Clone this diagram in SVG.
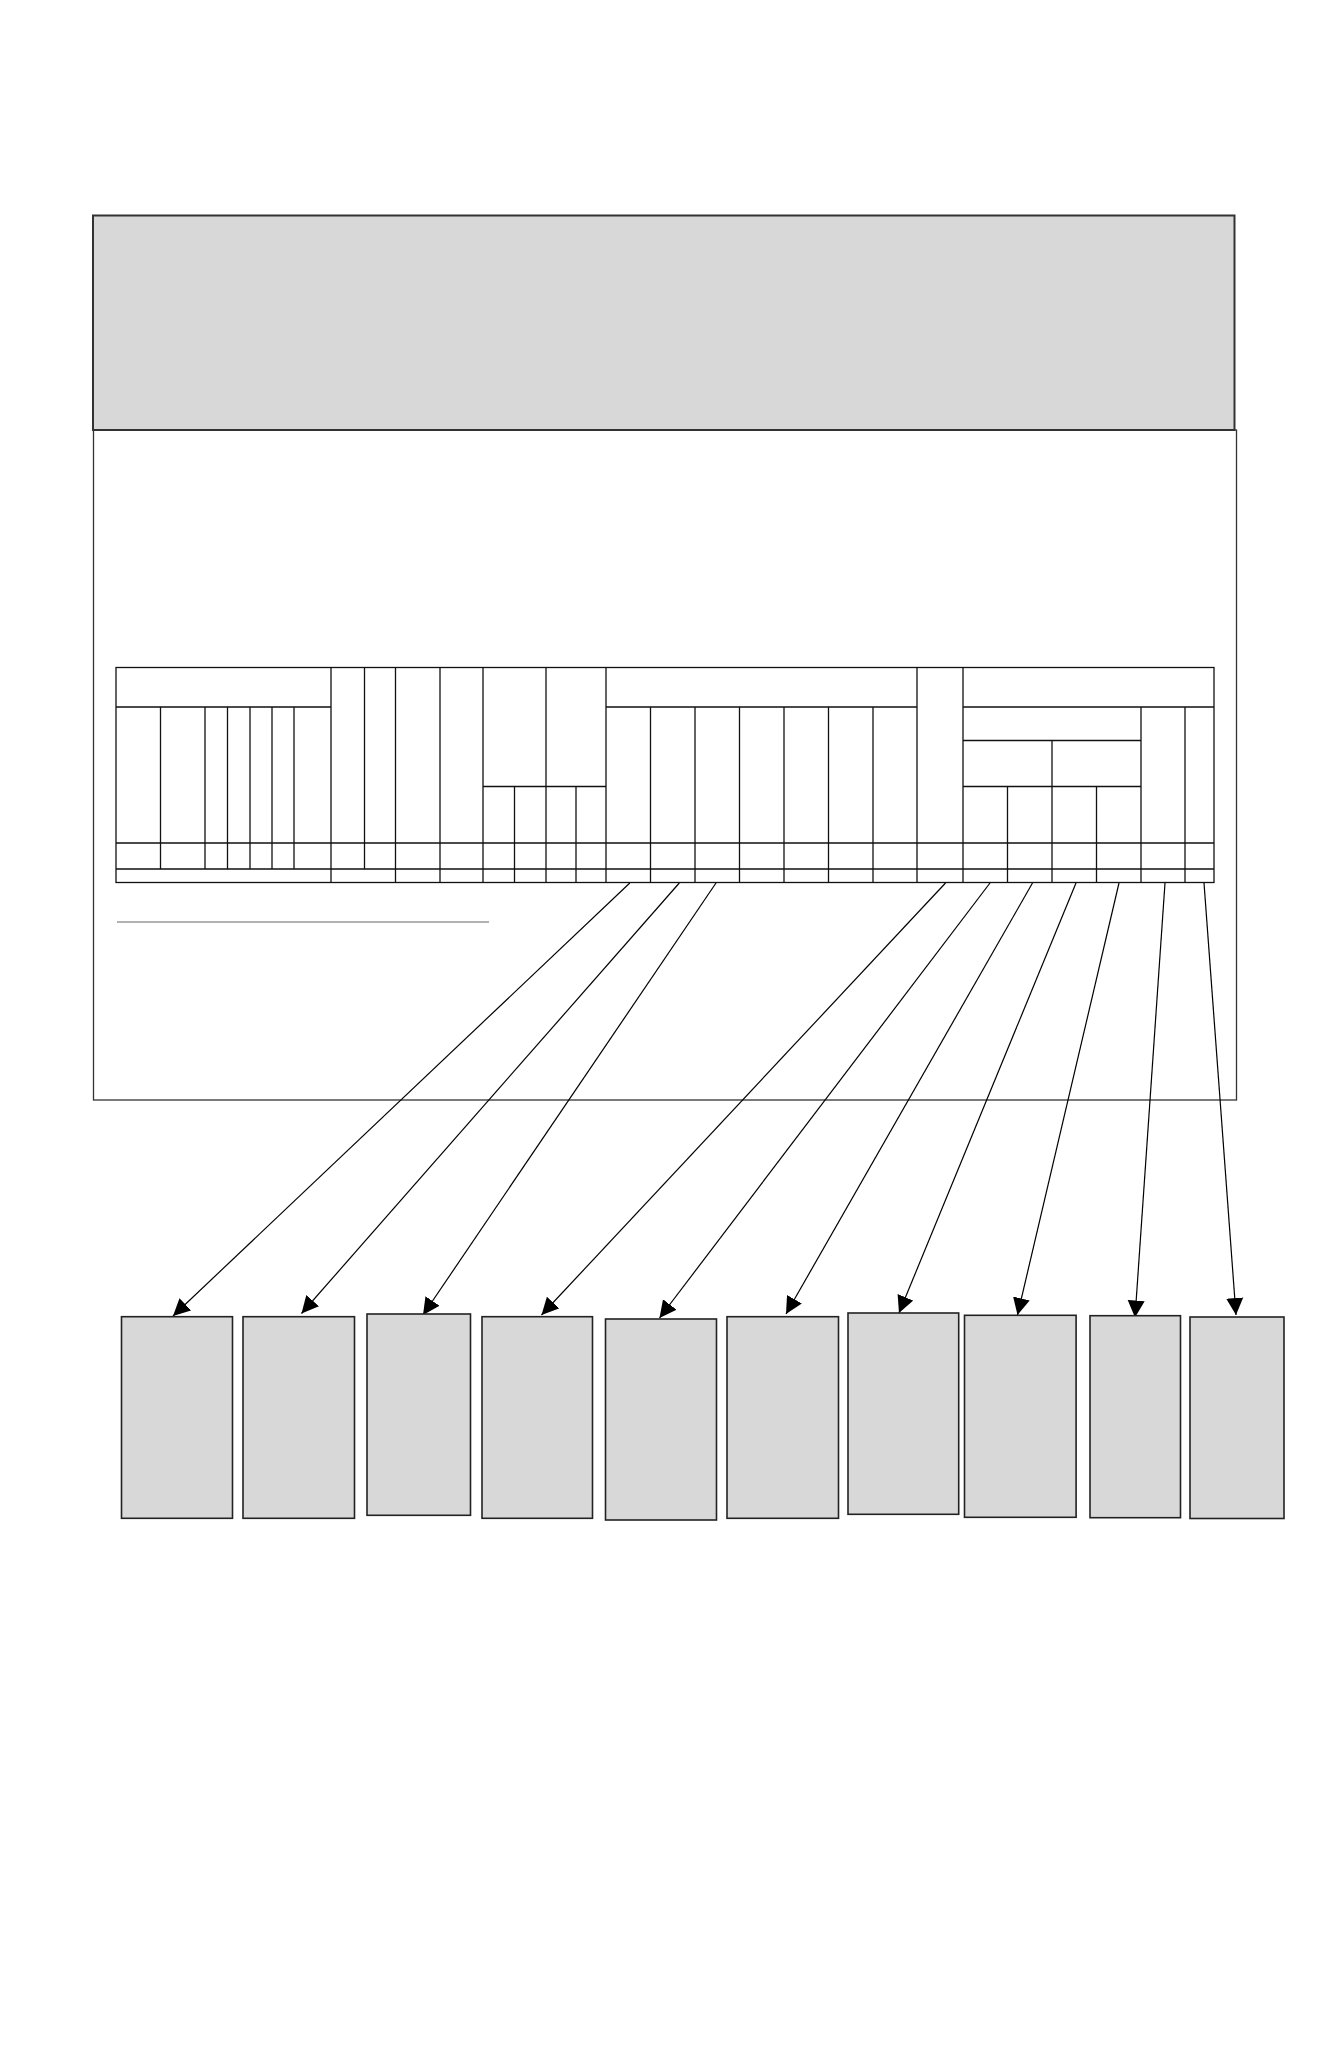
<svg xmlns="http://www.w3.org/2000/svg" width="1338" height="2046" viewBox="0 0 1338 2046">
<style>
.box{fill:#d8d8d8;stroke:#222;stroke-width:1.6}
.tl{stroke:#111;stroke-width:1.3;fill:none}
.conn{stroke:#000;stroke-width:1.2;fill:none}
</style>
<defs>
<marker id="ah" markerUnits="userSpaceOnUse" markerWidth="18" markerHeight="18" refX="17" refY="9" orient="auto" viewBox="0 0 18 18">
<path d="M0,0.5 L17,9 L0,17.5 z" fill="#000"/>
</marker>
</defs>
<rect width="1338" height="2046" fill="#fff"/>
<g id="header">
<rect x="93" y="215.5" width="1141.5" height="214.5" fill="#d8d8d8" stroke="#333" stroke-width="2"/>
</g>
<g id="frame">
<rect x="93.5" y="430" width="1143" height="670" fill="none" stroke="#333" stroke-width="1.3"/>
</g>
<g id="table" class="tl">
<rect x="116" y="667.5" width="1098" height="215"/>
<path d="M116,707H331 M606,707H917 M963,707H1214 M963,740.5H1141 M483,786.5H606 M963,786.5H1141 M116,843H1214 M116,869H1214"/>
<path d="M160.5,707V869 M205,707V869 M227.5,707V869 M250,707V869 M272,707V869 M294,707V869 M331,667.5V882.5 M364.5,667.5V869 M395.5,667.5V882.5 M440,667.5V882.5 M483,667.5V882.5 M514.5,786.5V882.5 M546,667.5V882.5 M576,786.5V882.5 M606,667.5V882.5 M650.5,707V882.5 M695,707V882.5 M739.5,707V882.5 M784,707V882.5 M828.5,707V882.5 M873,707V882.5 M917,667.5V882.5 M963,667.5V882.5 M1007.5,786.5V882.5 M1052,740.5V882.5 M1096.5,786.5V882.5 M1141,707V882.5 M1185,707V882.5"/>
</g>
<g id="separator">
<line x1="117" y1="922" x2="489" y2="922" stroke="#999" stroke-width="1.6"/>
</g>
<g id="connectors" class="conn">
<line x1="629.8" y1="883" x2="173" y2="1316" marker-end="url(#ah)"/>
<line x1="679.3" y1="883" x2="301.5" y2="1313.5" marker-end="url(#ah)"/>
<line x1="716" y1="883" x2="423" y2="1315" marker-end="url(#ah)"/>
<line x1="945.5" y1="883" x2="541.5" y2="1315" marker-end="url(#ah)"/>
<line x1="990" y1="883" x2="659.5" y2="1318" marker-end="url(#ah)"/>
<line x1="1032.5" y1="883" x2="786" y2="1314" marker-end="url(#ah)"/>
<line x1="1076" y1="883" x2="899" y2="1313" marker-end="url(#ah)"/>
<line x1="1119" y1="883" x2="1017.5" y2="1315" marker-end="url(#ah)"/>
<line x1="1165" y1="883" x2="1135" y2="1317.5" marker-end="url(#ah)"/>
<line x1="1204" y1="883" x2="1236" y2="1315" marker-end="url(#ah)"/>
</g>
<g id="box1"><rect class="box" x="121.5" y="1316.7" width="111" height="201.6"/></g>
<g id="box2"><rect class="box" x="243" y="1316.7" width="111.5" height="201.6"/></g>
<g id="box3"><rect class="box" x="367" y="1314" width="103.5" height="201.3"/></g>
<g id="box4"><rect class="box" x="482" y="1316.7" width="110.5" height="201.6"/></g>
<g id="box5"><rect class="box" x="605.5" y="1319" width="111" height="201"/></g>
<g id="box6"><rect class="box" x="727" y="1316.7" width="111.5" height="201.6"/></g>
<g id="box7"><rect class="box" x="848" y="1313" width="110.7" height="201.3"/></g>
<g id="box8"><rect class="box" x="964.5" y="1315.3" width="111.6" height="202"/></g>
<g id="box9"><rect class="box" x="1090" y="1315.7" width="90.5" height="202"/></g>
<g id="box10"><rect class="box" x="1190" y="1317" width="94" height="201.5"/></g>
</svg>
